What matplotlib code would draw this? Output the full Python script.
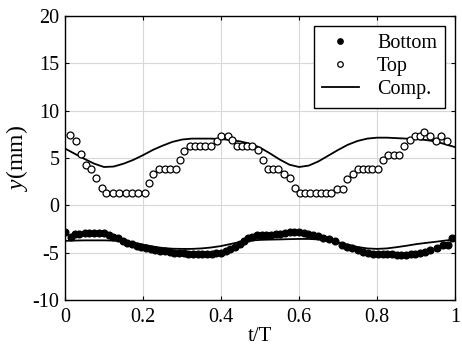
import numpy as np
import matplotlib
matplotlib.use("Agg")
import matplotlib.pyplot as plt

plt.rcParams['font.family'] = ['Liberation Serif', 'DejaVu Serif']
plt.rcParams['mathtext.fontset'] = 'custom'
plt.rcParams['mathtext.rm'] = 'Liberation Serif'
plt.rcParams['mathtext.it'] = 'Liberation Serif:italic'
plt.rcParams['axes.unicode_minus'] = False

# open circles (Top)
t_top = [0.013, 0.028, 0.041, 0.054, 0.066, 0.079, 0.095, 0.105, 0.122, 0.139,
         0.156, 0.173, 0.188, 0.205, 0.215, 0.226, 0.241, 0.256, 0.270, 0.285,
         0.295, 0.306, 0.321, 0.333, 0.346, 0.359, 0.374, 0.389, 0.400, 0.417,
         0.427, 0.440, 0.455, 0.467, 0.480, 0.494, 0.508, 0.521, 0.534, 0.547,
         0.562, 0.577, 0.590, 0.603, 0.615, 0.628, 0.644, 0.656, 0.669, 0.682,
         0.697, 0.712, 0.724, 0.738, 0.750, 0.763, 0.776, 0.788, 0.803, 0.816,
         0.829, 0.843, 0.857, 0.870, 0.885, 0.896, 0.910, 0.921, 0.936, 0.950,
         0.964, 0.979]
y_top = [7.4, 6.8, 5.4, 4.3, 3.8, 2.85, 1.8, 1.3, 1.3, 1.3,
         1.3, 1.3, 1.3, 1.3, 2.35, 3.35, 3.8, 3.8, 3.8, 3.8,
         4.75, 5.7, 6.3, 6.3, 6.3, 6.3, 6.3, 6.75, 7.3, 7.3,
         6.85, 6.3, 6.3, 6.3, 6.3, 5.8, 4.75, 3.8, 3.8, 3.8,
         3.35, 2.85, 1.8, 1.3, 1.3, 1.3, 1.3, 1.3, 1.3, 1.3,
         1.75, 1.75, 2.8, 3.35, 3.8, 3.8, 3.8, 3.8, 3.8, 4.75,
         5.3, 5.3, 5.3, 6.3, 6.85, 7.3, 7.3, 7.75, 7.3, 6.8,
         7.3, 6.8]

# filled circles (Bottom)
t_bot = [0.000, 0.015, 0.025, 0.037, 0.050, 0.062, 0.075, 0.087, 0.100, 0.112,
         0.124, 0.136, 0.148, 0.160, 0.172, 0.184, 0.196, 0.208, 0.220, 0.232,
         0.244, 0.256, 0.268, 0.280, 0.292, 0.304, 0.316, 0.328, 0.340, 0.352,
         0.364, 0.376, 0.388, 0.400, 0.412, 0.424, 0.436, 0.448, 0.458, 0.470,
         0.480, 0.492, 0.504, 0.516, 0.528, 0.540, 0.552, 0.564, 0.576, 0.588,
         0.600, 0.612, 0.624, 0.636, 0.648, 0.662, 0.676, 0.692, 0.709, 0.722,
         0.735, 0.750, 0.765, 0.778, 0.790, 0.802, 0.814, 0.826, 0.838, 0.850,
         0.862, 0.874, 0.886, 0.898, 0.910, 0.922, 0.936, 0.953, 0.968, 0.982,
         0.993]
y_bot = [-2.8, -3.3, -3.05, -3.0, -2.95, -2.95, -2.9, -2.9, -2.95, -3.1,
         -3.3, -3.5, -3.75, -3.95, -4.1, -4.25, -4.35, -4.5, -4.6, -4.7,
         -4.8, -4.85, -4.9, -5.0, -5.05, -5.05, -5.1, -5.1, -5.1, -5.1,
         -5.1, -5.1, -5.05, -5.0, -4.85, -4.65, -4.4, -4.1, -3.8, -3.5,
         -3.3, -3.15, -3.1, -3.1, -3.1, -3.05, -3.0, -2.9, -2.85, -2.8,
         -2.85, -2.95, -3.05, -3.15, -3.25, -3.45, -3.6, -3.8, -4.2, -4.4,
         -4.55, -4.75, -4.9, -5.05, -5.1, -5.1, -5.15, -5.15, -5.15, -5.2,
         -5.2, -5.2, -5.15, -5.1, -5.0, -4.9, -4.75, -4.5, -4.2, -4.2,
         -3.4]

# computed curves
t_comp = [0, .025, .05, .075, .1, .125, .15, .175, .2, .225, .25, .275, .3, .325,
          .35, .375, .4, .425, .45, .475, .5, .525, .55, .575, .6, .625, .65,
          .675, .7, .725, .75, .775, .8, .825, .85, .875, .9, .925, .95, .975, 1]
y_comp_top = [6.0, 5.45, 4.9, 4.4, 4.05, 4.1, 4.4, 4.8, 5.3, 5.85, 6.3, 6.7, 6.95, 7.05,
              7.05, 7.05, 7.0, 6.9, 6.75, 6.5, 6.1, 5.5, 4.85, 4.3, 4.05, 4.2, 4.65,
              5.25, 5.85, 6.4, 6.8, 7.05, 7.15, 7.15, 7.1, 7.05, 7.0, 6.9, 6.75, 6.45, 6.15]
y_comp_bot = [-3.75, -3.72, -3.7, -3.7, -3.7, -3.72, -3.8, -3.95, -4.15, -4.35, -4.5,
              -4.58, -4.6, -4.6, -4.55, -4.45, -4.3, -4.08, -3.85, -3.72, -3.65, -3.62,
              -3.6, -3.57, -3.55, -3.55, -3.6, -3.72, -3.9, -4.15, -4.4, -4.55, -4.6,
              -4.55, -4.42, -4.27, -4.1, -3.97, -3.85, -3.72, -3.6]

fig = plt.figure(figsize=(4.62, 3.52), dpi=100)
ax = fig.add_axes([0.1407, 0.1477, 0.8443, 0.8068])

ax.plot(t_bot, y_bot, 'o', color='black', markersize=4.8, label='Bottom', zorder=3)
ax.plot(t_top, y_top, 'o', markerfacecolor='white', markeredgecolor='black',
        markeredgewidth=0.9, markersize=5, label='Top', zorder=3)
ax.plot(t_comp, y_comp_top, '-', color='black', linewidth=1.3, label='Comp.', zorder=2)
ax.plot(t_comp, y_comp_bot, '-', color='black', linewidth=1.3, zorder=2)

ax.set_xlim(0, 1)
ax.set_ylim(-10, 20)
ax.set_xticks([0, 0.2, 0.4, 0.6, 0.8, 1])
ax.set_xticklabels(['0', '0.2', '0.4', '0.6', '0.8', '1'])
ax.set_yticks([-10, -5, 0, 5, 10, 15, 20])
ax.tick_params(direction='in', top=True, right=True, labelsize=14.5, length=3)
ax.tick_params(axis='x', pad=6)
ax.tick_params(axis='y', pad=4)
ax.grid(True, color='#d8d8d8', linewidth=0.8)
for s in ax.spines.values():
    s.set_linewidth(1.0)

ax.set_xlabel('t/T', fontsize=15, labelpad=0)
ax.set_ylabel('$y$(mm)', fontsize=17, labelpad=2)

leg = ax.legend(loc='upper right', fontsize=14.5, frameon=True, fancybox=False,
                edgecolor='black', framealpha=1, handlelength=1.85,
                borderpad=0.4, labelspacing=0.2, handletextpad=0.9,
                borderaxespad=0.5, markerscale=0.8)
leg.get_frame().set_linewidth(1.0)

fig.savefig('out.png', dpi=100)
